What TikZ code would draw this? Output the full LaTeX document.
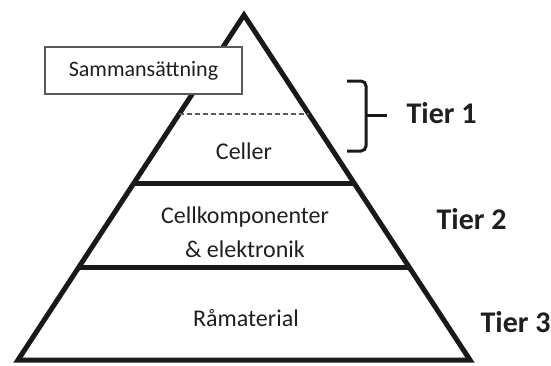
\documentclass[tikz,border=0pt]{standalone}
\usepackage{fontspec}
\setmainfont{Carlito}
\usetikzlibrary{calc}
\definecolor{EdgeClr}{rgb}{0.1,0.1,0.1}
\definecolor{TextClr}{rgb}{0.12,0.12,0.12}
\definecolor{BoxClr}{rgb}{0.35,0.35,0.35}

\begin{document}
\begin{tikzpicture}[x=1pt,y=-1pt,
  lbl/.style={anchor=base,text=TextClr,font=\fontsize{24}{34}\selectfont},
  tier/.style={anchor=base west,text=TextClr,font=\fontsize{30}{36}\selectfont\bfseries},
  level/.style={line width=5pt,color=EdgeClr}]
\useasboundingbox (0,0) rectangle (551,365);

\coordinate (T) at (244,15);
\coordinate (L) at (18,360);
\coordinate (R) at (470,360);

% pyramid
\draw[line width=5pt,color=EdgeClr,line join=miter] (T) -- (L) -- (R) -- cycle;
\draw[level] ($(T)!0.487!(L)$) -- ($(T)!0.487!(R)$);
\draw[level] ($(T)!0.733!(L)$) -- ($(T)!0.733!(R)$);
\draw[line width=1.8pt,color=BoxClr,dash pattern=on 5pt off 3pt]
  ($(T)!0.287!(L)$) -- ($(T)!0.287!(R)$);

\node[draw=BoxClr,line width=1.3pt,fill=white,minimum width=197pt,minimum height=47pt,
  text=TextClr,font=\fontsize{22}{26}\selectfont] (box) at (143.5,70.5) {Sammansättning};

\node[lbl] (cel) at (244,159) {Celler};
\node[lbl,align=center] (komp) at (245,257) {Cellkomponenter\\\& elektronik};
\node[lbl] (raa) at (246,326) {Råmaterial};

% brace
\coordinate (b1) at (347,81);
\coordinate (b2) at (347,151);
\coordinate (bm) at (366,115);
\coordinate (bt) at (387,115);
\draw[line width=3pt,color=EdgeClr,rounded corners=5pt] (b1) -| (bm) |- (b2);
\draw[line width=3pt,color=EdgeClr] (bm) -- (bt);

\node[tier] (t1) at (403,123) {Tier 1};
\node[tier] (t2) at (433,229) {Tier 2};
\node[tier] (t3) at (477,332) {Tier 3};
\end{tikzpicture}
\end{document}
